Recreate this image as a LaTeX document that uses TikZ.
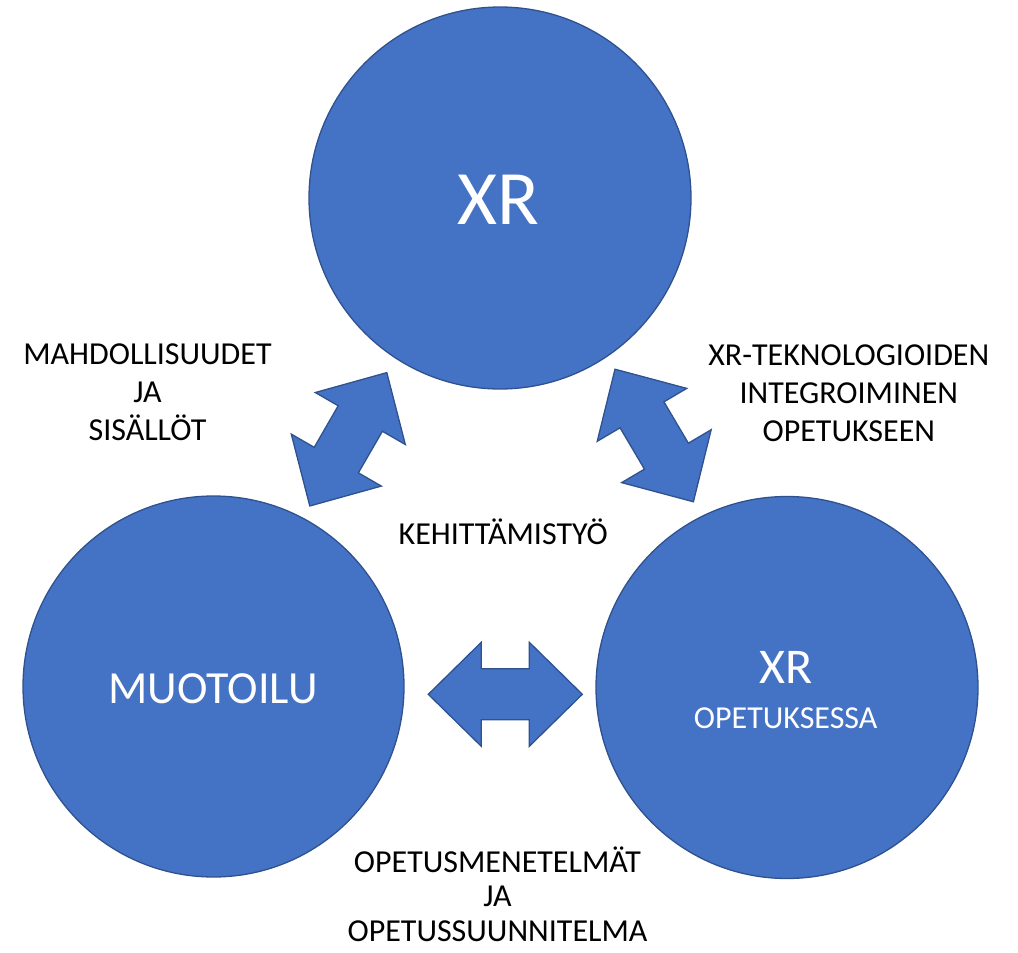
\documentclass[tikz,border=0pt]{standalone}
\usepackage{fontspec}
\setmainfont{Carlito}
\definecolor{xrfill}{HTML}{4472C4}
\definecolor{xredge}{HTML}{2F528F}
\tikzset{
  bigcircle/.style={circle, fill=xrfill, draw=xredge, line width=1.3pt, inner sep=0pt},
  blockarrow/.style={fill=xrfill, draw=xredge, line width=1.3pt, line join=miter},
  lbl/.style={align=center, anchor=base, inner sep=0pt, text=black},
  intext/.style={anchor=base, inner sep=0pt, text=white},
}
\newcommand{\dblarrow}{%
  (-77,0) -- (-24,52) -- (-24,25.5) -- (24,25.5) -- (24,52) -- (77,0)
  -- (24,-52) -- (24,-25.5) -- (-24,-25.5) -- (-24,-52) -- cycle}
\begin{document}
\begin{tikzpicture}[x=1pt, y=-1pt]
\useasboundingbox (0,0) rectangle (1018,953);
% circles
\node[bigcircle, minimum size=382pt] (top) at (500,198) {};
\node[bigcircle, minimum size=381pt] (left) at (213.5,686.5) {};
\node[bigcircle, minimum size=382pt] (right) at (787,687.5) {};
% circle texts
\node[intext, font=\fontsize{77}{80}\selectfont] (topxr) at (498,224) {XR};
\node[intext, font=\fontsize{46}{50}\selectfont] (muot) at (213,703) {MUOTOILU};
\node[intext, font=\fontsize{50}{54}\selectfont] (rightxr) at (786.5,683.3) {XR};
\node[intext, font=\fontsize{32}{36}\selectfont] (opet) at (785.7,728) {OPETUKSESSA};
% block arrows
\begin{scope}[shift={(348.3,439.3)}, rotate=60]
  \draw[blockarrow] \dblarrow;
  \coordinate (arrowL) at (0,0);
\end{scope}
\begin{scope}[shift={(654.2,435.5)}, rotate=-59.4]
  \draw[blockarrow] \dblarrow;
  \coordinate (arrowR) at (0,0);
\end{scope}
\begin{scope}[shift={(505.3,694.3)}]
  \draw[blockarrow] \dblarrow;
  \coordinate (arrowB) at (0,0);
\end{scope}
% labels (anchor = baseline of last line)
\node[lbl, font=\fontsize{32}{38}\selectfont] (mahd) at (147.5,440) {MAHDOLLISUUDET\\JA\\SISÄLLÖT};
\node[lbl, font=\fontsize{32}{38}\selectfont] (xrtek) at (848.8,441) {XR-TEKNOLOGIOIDEN\\INTEGROIMINEN\\OPETUKSEEN};
\node[lbl, font=\fontsize{32}{38}\selectfont] (kehi) at (503.3,544.3) {KEHITTÄMISTYÖ};
\node[lbl, font=\fontsize{32}{34.5}\selectfont] (opmen) at (497.5,941) {OPETUSMENETELMÄT\\JA\\OPETUSSUUNNITELMA};
\end{tikzpicture}
\end{document}
